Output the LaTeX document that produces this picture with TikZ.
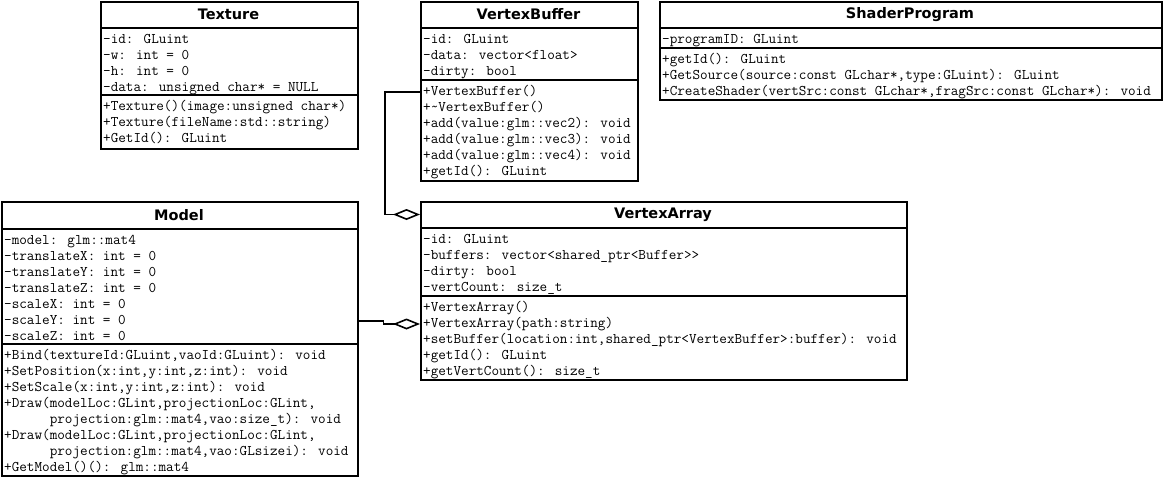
\documentclass[tikz,border=0pt]{standalone}
\usepackage{fontspec}
\newfontfamily\headfont{DejaVu Sans}
\usetikzlibrary{arrows.meta}

\tikzset{
  classbox/.style={draw, line width=1.6pt, fill=white, inner sep=0pt, anchor=north west},
  sect/.style={line width=1.6pt},
  row/.style={anchor=west, inner sep=0pt, text height=9pt, text depth=3pt,
              font=\ttfamily\fontsize{14.75}{16}\selectfont},
  classname/.style={inner sep=0pt, font=\headfont\bfseries\fontsize{14.5}{16}\selectfont},
  aggr/.style={line width=1.6pt,
               -{Diamond[open, length=27pt, width=11pt, line width=1.6pt]}},
}

% one text row per list entry, 16pt apart, starting below a section line
\newcommand{\classrows}[4]{%
  \foreach \t [count=\i] in {#4}
    \node[row] (#1\i) at (#2, #3+12+16*\i-16) {\t};}

\begin{document}
\begin{tikzpicture}[x=1pt, y=-1pt]
  \useasboundingbox[fill=white] (0,0) rectangle (1164,477);

  % ---------- Texture ----------
  \node[classbox, minimum width=257pt, minimum height=147pt] (tex) at (100,1) {};
  \draw[sect] (tex.west |- 0,28) -- (tex.east |- 0,28);
  \draw[sect] (tex.west |- 0,95) -- (tex.east |- 0,95);
  \node[classname] (tex-name) at (228.5,14.5) {Texture};
  \classrows{tex-a}{103}{28}{{-id: GLuint},{-w: int = 0},{-h: int = 0},
    {-data: unsigned char* = NULL}}
  \classrows{tex-m}{103}{95}{{+Texture()(image:unsigned char*)},
    {+Texture(fileName:std::string)},{+GetId(): GLuint}}

  % ---------- VertexBuffer ----------
  \node[classbox, minimum width=217pt, minimum height=179pt] (vb) at (420,1) {};
  \draw[sect] (vb.west |- 0,28) -- (vb.east |- 0,28);
  \draw[sect] (vb.west |- 0,80) -- (vb.east |- 0,80);
  \node[classname] (vb-name) at (528.5,14.5) {VertexBuffer};
  \classrows{vb-a}{423}{28}{{-id: GLuint},{-data: vector<float>},{-dirty: bool}}
  \classrows{vb-m}{423}{80}{{+VertexBuffer()},{+\textasciitilde VertexBuffer()},
    {+add(value:glm::vec2): void},{+add(value:glm::vec3): void},
    {+add(value:glm::vec4): void},{+getId(): GLuint}}

  % ---------- ShaderProgram ----------
  \node[classbox, minimum width=502pt, minimum height=98pt] (sp) at (659,1) {};
  \draw[sect] (sp.west |- 0,28) -- (sp.east |- 0,28);
  \draw[sect] (sp.west |- 0,48) -- (sp.east |- 0,48);
  \node[classname] (sp-name) at (910,14.5) {ShaderProgram};
  \classrows{sp-a}{662}{28}{{-programID: GLuint}}
  \classrows{sp-m}{662}{48}{{+getId(): GLuint},
    {+GetSource(source:const GLchar*,type:GLuint): GLuint},
    {+CreateShader(vertSrc:const GLchar*,fragSrc:const GLchar*): void}}

  % ---------- Model ----------
  \node[classbox, minimum width=356pt, minimum height=274pt] (model) at (1,201) {};
  \draw[sect] (model.west |- 0,229) -- (model.east |- 0,229);
  \draw[sect] (model.west |- 0,344) -- (model.east |- 0,344);
  \node[classname] (model-name) at (179,215) {Model};
  \classrows{model-a}{4}{229}{{-model: glm::mat4},{-translateX: int = 0},
    {-translateY: int = 0},{-translateZ: int = 0},{-scaleX: int = 0},
    {-scaleY: int = 0},{-scaleZ: int = 0}}
  \classrows{model-m}{4}{344}{{+Bind(textureId:GLuint,vaoId:GLuint): void},
    {+SetPosition(x:int,y:int,z:int): void},{+SetScale(x:int,y:int,z:int): void},
    {+Draw(modelLoc:GLint,projectionLoc:GLint,},
    {\phantom{xxxxxx}projection:glm::mat4,vao:size\_t): void},
    {+Draw(modelLoc:GLint,projectionLoc:GLint,},
    {\phantom{xxxxxx}projection:glm::mat4,vao:GLsizei): void},
    {+GetModel()(): glm::mat4}}

  % ---------- VertexArray ----------
  \node[classbox, minimum width=486pt, minimum height=178pt] (va) at (420,201) {};
  \draw[sect] (va.west |- 0,228) -- (va.east |- 0,228);
  \draw[sect] (va.west |- 0,296) -- (va.east |- 0,296);
  \node[classname] (va-name) at (663,214.5) {VertexArray};
  \classrows{va-a}{423}{228}{{-id: GLuint},
    {-buffers: vector<shared\_ptr<Buffer>\kern0pt>},
    {-dirty: bool},{-vertCount: size\_t}}
  \classrows{va-m}{423}{296}{{+VertexArray()},{+VertexArray(path:string)},
    {+setBuffer(location:int,shared\_ptr<VertexBuffer>:buffer): void},
    {+getId(): GLuint},{+getVertCount(): size\_t}}

  % ---------- aggregations into VertexArray ----------
  \draw[aggr] (vb.west |- vb-m1) -- ++(-35,0) |- (va.west |- va-name);
  \draw[aggr] (model.east |- model-a6) -- ++(25,0) |- (va.west |- va-m2);
\end{tikzpicture}
\end{document}
